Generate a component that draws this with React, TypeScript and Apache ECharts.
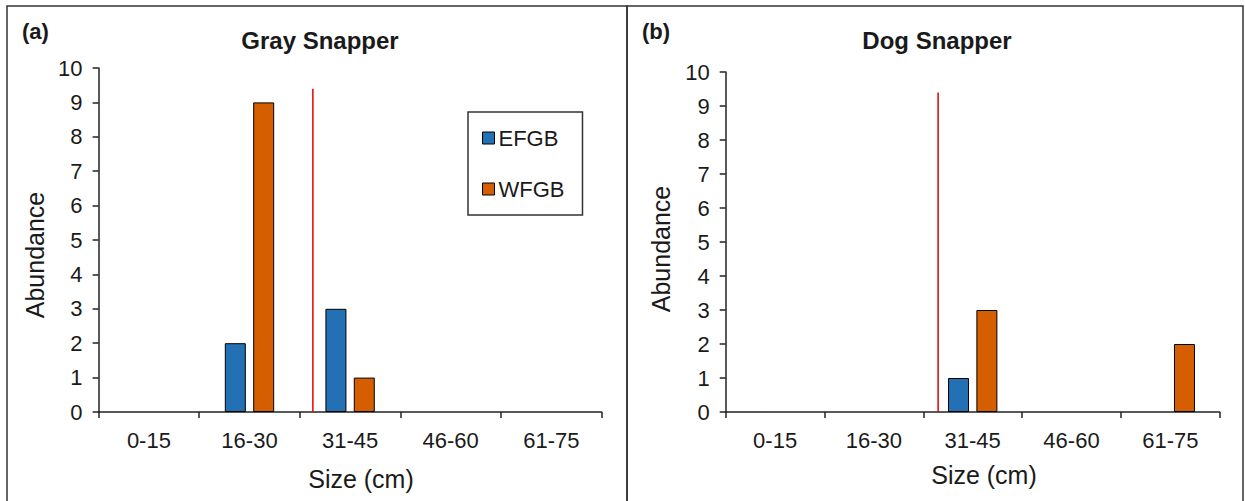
import React, { useEffect, useRef } from "react";
import * as echarts from "echarts";

const categories = ["0-15", "16-30", "31-45", "46-60", "61-75"];
const grayEFGB = [0, 2, 3, 0, 0];
const grayWFGB = [0, 9, 1, 0, 0];
const dogEFGB = [0, 0, 1, 0, 0];
const dogWFGB = [0, 0, 3, 0, 2];
const yTicks = [0, 10, 1];
// Red reference line position in category-index units, and its height
const grayRefX = 2.13;
const dogRefX = 2.15;
const refTop = 9.4;

const BLUE = "#2470b4";
const ORANGE = "#d55e00";
const FONT = "Liberation Sans, Arial, sans-serif";
const TXT = "#1a1a1a";

export default function App() {
  const ref = useRef<HTMLDivElement>(null);
  useEffect(() => {
    const chart = echarts.init(ref.current!, null, { renderer: "svg" });
    const grids = [
      { left: 98.6, top: 68, width: 503, height: 344 },
      { left: 725.7, top: 72, width: 494, height: 340 },
    ];
    const catAxis = (gi: number) => ({
      type: "category",
      gridIndex: gi,
      data: categories,
      axisLine: { lineStyle: { color: "#222", width: 1.5 } },
      axisTick: { show: true, length: 6, inside: false, lineStyle: { color: "#222", width: 1.5 } },
      axisLabel: { color: TXT, fontSize: 22, fontFamily: FONT, margin: 17 },
      splitLine: { show: false },
    });
    const valXAxis = (gi: number) => ({
      type: "value",
      gridIndex: gi,
      min: 0,
      max: 5,
      show: false,
    });
    const yAxis = (gi: number) => ({
      type: "value",
      gridIndex: gi,
      min: yTicks[0],
      max: yTicks[1],
      interval: yTicks[2],
      axisLine: { show: true, lineStyle: { color: "#222", width: 1.5 } },
      axisTick: { show: true, length: 6, lineStyle: { color: "#222", width: 1.5 } },
      axisLabel: { color: TXT, fontSize: 22, fontFamily: FONT, margin: 16 },
      splitLine: { show: false },
    });
    const barStyle = (c: string) => ({ color: c, borderColor: "#000", borderWidth: 1 });
    const bar = (name: string, data: number[], gi: number, color: string) => ({
      type: "bar",
      name,
      // zero counts have no visible bar
      data: data.map((v) => (v === 0 ? "-" : v)),
      xAxisIndex: gi * 2,
      yAxisIndex: gi,
      barWidth: 21,
      barGap: "35%",
      itemStyle: barStyle(color),
    });
    const refLine = (x: number, gi: number) => ({
      type: "line",
      xAxisIndex: gi * 2 + 1,
      yAxisIndex: gi,
      data: [
        [x, 0],
        [x, refTop],
      ],
      symbol: "none",
      silent: true,
      lineStyle: { color: "#e00000", width: 1.5 },
    });
    const text = (t: string, x: number, y: number, size: number, bold = false, rot = 0) => ({
      type: "text",
      x,
      y,
      rotation: rot,
      style: {
        text: t,
        fill: TXT,
        font: `${bold ? "bold " : ""}${size}px ${FONT}`,
        textAlign: "center",
        textVerticalAlign: "middle",
      },
    });
    const textL = (t: string, x: number, y: number, size: number) => ({
      type: "text",
      x,
      y,
      style: {
        text: t,
        fill: TXT,
        font: `bold ${size}px ${FONT}`,
        textAlign: "left",
        textVerticalAlign: "middle",
      },
    });
    chart.setOption({
      animation: false,
      grid: grids,
      xAxis: [catAxis(0), valXAxis(0), catAxis(1), valXAxis(1)],
      yAxis: [yAxis(0), yAxis(1)],
      legend: {
        data: [
          { name: "EFGB", itemStyle: barStyle(BLUE) },
          { name: "WFGB", itemStyle: barStyle(ORANGE) },
        ],
        orient: "vertical",
        left: 468,
        top: 112,
        padding: [15, 18, 15, 14],
        itemGap: 29,
        itemWidth: 12,
        itemHeight: 12,
        icon: "rect",
        borderColor: "#333",
        borderWidth: 1.5,
        textStyle: { color: TXT, fontSize: 22, fontFamily: FONT, padding: [0, 0, 0, -1] },
      },
      series: [
        bar("EFGB", grayEFGB, 0, BLUE),
        bar("WFGB", grayWFGB, 0, ORANGE),
        refLine(grayRefX, 0),
        bar("EFGB", dogEFGB, 1, BLUE),
        bar("WFGB", dogWFGB, 1, ORANGE),
        refLine(dogRefX, 1),
      ],
      graphic: [
        {
          type: "rect",
          shape: { x: 7, y: 6, width: 620, height: 530 },
          style: { fill: "none", stroke: "#333", lineWidth: 1.5 },
          silent: true,
        },
        {
          type: "rect",
          shape: { x: 627, y: 6, width: 616, height: 530 },
          style: { fill: "none", stroke: "#333", lineWidth: 1.5 },
          silent: true,
        },
        textL("(a)", 22, 31, 22),
        textL("(b)", 642, 31, 22),
        text("Gray Snapper", 320, 40, 24, true),
        text("Dog Snapper", 937, 40, 24, true),
        text("Abundance", 35, 255, 25, false, Math.PI / 2),
        text("Abundance", 661, 249, 25, false, Math.PI / 2),
        text("Size (cm)", 361, 479, 25),
        text("Size (cm)", 984, 475, 25),
      ],
    });
    return () => chart.dispose();
  }, []);
  return (
    <div
      ref={ref}
      style={{ position: "fixed", left: 0, top: 0, width: 1245, height: 501, background: "#fff" }}
    />
  );
}
